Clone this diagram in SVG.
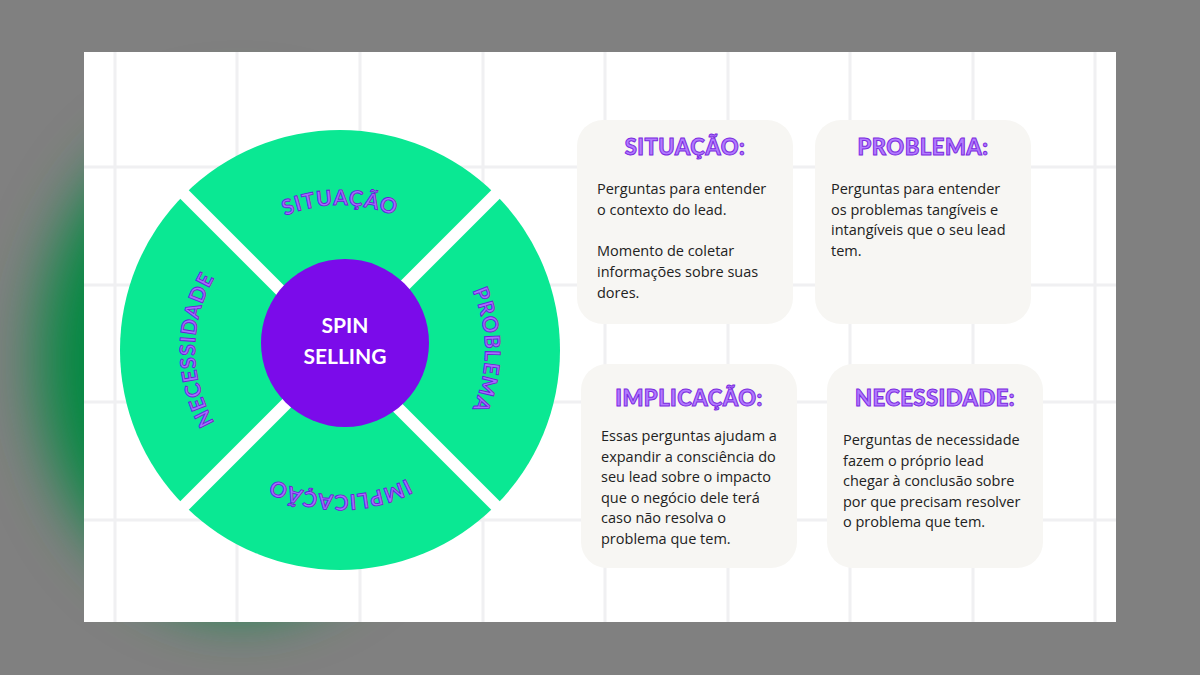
<svg xmlns="http://www.w3.org/2000/svg" width="1200" height="675" viewBox="0 0 1200 675">
<defs>
<filter id="blur" x="-50%" y="-50%" width="200%" height="200%"><feGaussianBlur stdDeviation="30"/></filter>
<path id="pTop" d="M 195 350 A 145 145 0 0 1 485 350"/>
<path id="pRight" d="M 340 205 A 145 145 0 0 1 340 495"/>
<path id="pBot" d="M 485 350 A 145 145 0 0 1 195 350"/>
<path id="pLeft" d="M 340 495 A 145 145 0 0 1 340 205"/>
<style>
.wl{font-family:Lato,"Open Sans",sans-serif;font-weight:700;font-size:21px;fill:#a66cff;stroke:#6a1fd6;stroke-width:0.9;letter-spacing:1px}
.tt{font-family:Lato,"Open Sans",sans-serif;font-weight:900;font-size:22px;fill:#b27aff;stroke:#7b2be0;stroke-width:1;text-anchor:middle;letter-spacing:0.5px}
.bd{font-family:"Open Sans",sans-serif;font-size:14.5px;fill:#222}
.card{fill:#f7f6f3}
.grid line{stroke:#f0f0f2;stroke-width:3}
</style>
</defs>
<rect width="1200" height="675" fill="#808080"/>
<ellipse cx="240" cy="360" rx="200" ry="250" fill="#00893f" filter="url(#blur)"/>
<rect x="84" y="52" width="1032" height="570" fill="#ffffff"/>
<g class="grid">
<line x1="115" y1="52" x2="115" y2="622"/><line x1="237" y1="52" x2="237" y2="622"/><line x1="360" y1="52" x2="360" y2="622"/><line x1="483" y1="52" x2="483" y2="622"/><line x1="605" y1="52" x2="605" y2="622"/><line x1="728" y1="52" x2="728" y2="622"/><line x1="850" y1="52" x2="850" y2="622"/><line x1="973" y1="52" x2="973" y2="622"/><line x1="1095" y1="52" x2="1095" y2="622"/>
<line x1="84" y1="167" x2="1116" y2="167"/><line x1="84" y1="285" x2="1116" y2="285"/><line x1="84" y1="402" x2="1116" y2="402"/><line x1="84" y1="520" x2="1116" y2="520"/>
</g>
<g id="wheel">
<circle cx="340" cy="350" r="220" fill="#0ae893"/>
<line x1="180" y1="190" x2="500" y2="510" stroke="#fff" stroke-width="12"/>
<line x1="500" y1="190" x2="180" y2="510" stroke="#fff" stroke-width="12"/>
<circle cx="345" cy="343" r="84" fill="#7b0bea"/>
<text x="345" y="333" font-family="Lato,'Open Sans',sans-serif" font-weight="700" font-size="21" fill="#fff" text-anchor="middle">SPIN</text>
<text x="345" y="364" font-family="Lato,'Open Sans',sans-serif" font-weight="700" font-size="21" fill="#fff" text-anchor="middle">SELLING</text>
<text class="wl" text-anchor="middle"><textPath href="#pTop" startOffset="50%">SITUAÇÃO</textPath></text>
<text class="wl" text-anchor="middle"><textPath href="#pRight" startOffset="50%">PROBLEMA</textPath></text>
<text class="wl" text-anchor="middle"><textPath href="#pBot" startOffset="50%">IMPLICAÇÃO</textPath></text>
<text class="wl" text-anchor="middle"><textPath href="#pLeft" startOffset="50%">NECESSIDADE</textPath></text>
</g>
<g id="card-situacao">
<rect class="card" x="577" y="120" width="216" height="204" rx="26"/>
<text class="tt" x="685" y="155">SITUAÇÃO:</text>
<text class="bd"><tspan x="597" y="194">Perguntas para entender</tspan><tspan x="597" y="215">o contexto do lead.</tspan><tspan x="597" y="256">Momento de coletar</tspan><tspan x="597" y="277">informações sobre suas</tspan><tspan x="597" y="298">dores.</tspan></text>
</g>
<g id="card-problema">
<rect class="card" x="815" y="120" width="216" height="204" rx="26"/>
<text class="tt" x="923" y="155">PROBLEMA:</text>
<text class="bd"><tspan x="831" y="194">Perguntas para entender</tspan><tspan x="831" y="215">os problemas tangíveis e</tspan><tspan x="831" y="235">intangíveis que o seu lead</tspan><tspan x="831" y="256">tem.</tspan></text>
</g>
<g id="card-implicacao">
<rect class="card" x="581" y="364" width="216" height="204" rx="26"/>
<text class="tt" x="689" y="406">IMPLICAÇÃO:</text>
<text class="bd"><tspan x="601" y="441">Essas perguntas ajudam a</tspan><tspan x="601" y="462">expandir a consciência do</tspan><tspan x="601" y="482">seu lead sobre o impacto</tspan><tspan x="601" y="503">que o negócio dele terá</tspan><tspan x="601" y="523">caso não resolva o</tspan><tspan x="601" y="544">problema que tem.</tspan></text>
</g>
<g id="card-necessidade">
<rect class="card" x="827" y="364" width="216" height="204" rx="26"/>
<text class="tt" x="935" y="406">NECESSIDADE:</text>
<text class="bd"><tspan x="843" y="445">Perguntas de necessidade</tspan><tspan x="843" y="466">fazem o próprio lead</tspan><tspan x="843" y="486">chegar à conclusão sobre</tspan><tspan x="843" y="507">por que precisam resolver</tspan><tspan x="843" y="527">o problema que tem.</tspan></text>
</g>
<g id="connectors"/>
</svg>
